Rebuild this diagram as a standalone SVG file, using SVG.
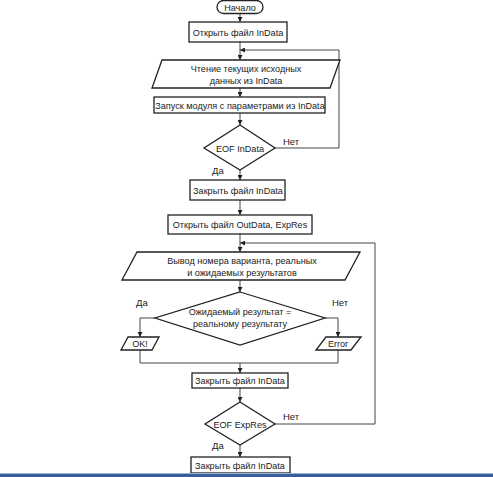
<svg xmlns="http://www.w3.org/2000/svg" width="493" height="477" viewBox="0 0 493 477">
<style>
.s{fill:#fff;stroke:#222;stroke-width:1.3}
.t{font-family:"Liberation Sans",Arial,sans-serif;font-size:9.1px;fill:#222;text-anchor:middle}
.l{font-family:"Liberation Sans",Arial,sans-serif;font-size:9.5px;fill:#222}
.c{fill:none;stroke:#444;stroke-width:1}
</style>
<defs>
<marker id="a" viewBox="0 0 8 8" refX="8" refY="4" markerWidth="5" markerHeight="5" markerUnits="userSpaceOnUse" orient="auto">
<path d="M0,0L8,4L0,8z" fill="#222"/>
</marker>
</defs>
<rect x="0" y="0" width="493" height="477" fill="#fff"/>
<g id="connectors">
<path class="c" d="M240,13V22" marker-end="url(#a)"/>
<path class="c" d="M240,42V60" marker-end="url(#a)"/>
<path class="c" d="M275,148H339V50H240" marker-end="url(#a)"/>
<path class="c" d="M240,88V97" marker-end="url(#a)"/>
<path class="c" d="M240,113V125" marker-end="url(#a)"/>
<path class="c" d="M240,170V180" marker-end="url(#a)"/>
<path class="c" d="M240,200V215" marker-end="url(#a)"/>
<path class="c" d="M240,234V252" marker-end="url(#a)"/>
<path class="c" d="M275,424H375V243H240" marker-end="url(#a)"/>
<path class="c" d="M240,280V292" marker-end="url(#a)"/>
<path class="c" d="M155,318H140V337" marker-end="url(#a)"/>
<path class="c" d="M325,318H338V337" marker-end="url(#a)"/>
<path class="c" d="M140,350V363H338V350"/>
<path class="c" d="M240,363V373" marker-end="url(#a)"/>
<path class="c" d="M240,388V402" marker-end="url(#a)"/>
<path class="c" d="M240,445V457" marker-end="url(#a)"/>
<text class="l" x="283" y="145">Нет</text>
<text class="l" x="212" y="174">Да</text>
<text class="l" x="136" y="306">Да</text>
<text class="l" x="332" y="306">Нет</text>
<text class="l" x="283" y="420">Нет</text>
<text class="l" x="212" y="449">Да</text>
</g>
<g id="start">
<rect class="s" x="217" y="0.5" width="46" height="13" rx="6.5"/>
<text class="t" x="240" y="10.5">Начало</text>
</g>
<g id="open-indata">
<rect class="s" x="189" y="22" width="98" height="20"/>
<text class="t" x="238" y="35.5">Открыть файл InData</text>
</g>
<g id="read-input">
<path class="s" d="M162,60H340L330,88H152Z"/>
<text class="t" x="246" y="72">Чтение текущих исходных</text>
<text class="t" x="246" y="84">данных из InData</text>
</g>
<g id="run-module">
<rect class="s" x="154" y="97" width="171" height="16"/>
<text class="t" x="240" y="108.5">Запуск модуля с параметрами из InData</text>
</g>
<g id="eof-indata">
<path class="s" d="M240,125L275,148L240,170L204,148Z"/>
<text class="t" x="240" y="151.5">EOF InData</text>
</g>
<g id="close-indata-1">
<rect class="s" x="190" y="180" width="95" height="20"/>
<text class="t" x="238" y="193.5">Закрыть файл InData</text>
</g>
<g id="open-outdata">
<rect class="s" x="168" y="215" width="144" height="19"/>
<text class="t" x="240" y="228">Открыть файл OutData, ExpRes</text>
</g>
<g id="output-results">
<path class="s" d="M137,252H360L345,280H122Z"/>
<text class="t" x="242" y="264">Вывод номера варианта, реальных</text>
<text class="t" x="242" y="276">и ожидаемых результатов</text>
</g>
<g id="compare">
<path class="s" d="M240,292L325,318L240,345L155,318Z"/>
<text class="t" x="240" y="315">Ожидаемый результат =</text>
<text class="t" x="240" y="327">реальному результату</text>
</g>
<g id="ok">
<path class="s" d="M128,337H159L152,350H121Z"/>
<text class="t" x="140" y="347">OK!</text>
</g>
<g id="error">
<path class="s" d="M326,337H361L351,350H316Z"/>
<text class="t" x="338" y="347">Error</text>
</g>
<g id="close-indata-2">
<rect class="s" x="192" y="373" width="96" height="15"/>
<text class="t" x="240" y="384">Закрыть файл InData</text>
</g>
<g id="eof-expres">
<path class="s" d="M240,402L275,424L240,445L205,424Z"/>
<text class="t" x="240" y="427.5">EOF ExpRes</text>
</g>
<g id="close-indata-3">
<rect class="s" x="191" y="457" width="99" height="16"/>
<text class="t" x="240" y="468.5">Закрыть файл InData</text>
</g>
<rect x="0" y="473" width="493" height="1" fill="#9fb3d6"/>
<rect x="0" y="474" width="493" height="3" fill="#3d5e9c"/>
</svg>
